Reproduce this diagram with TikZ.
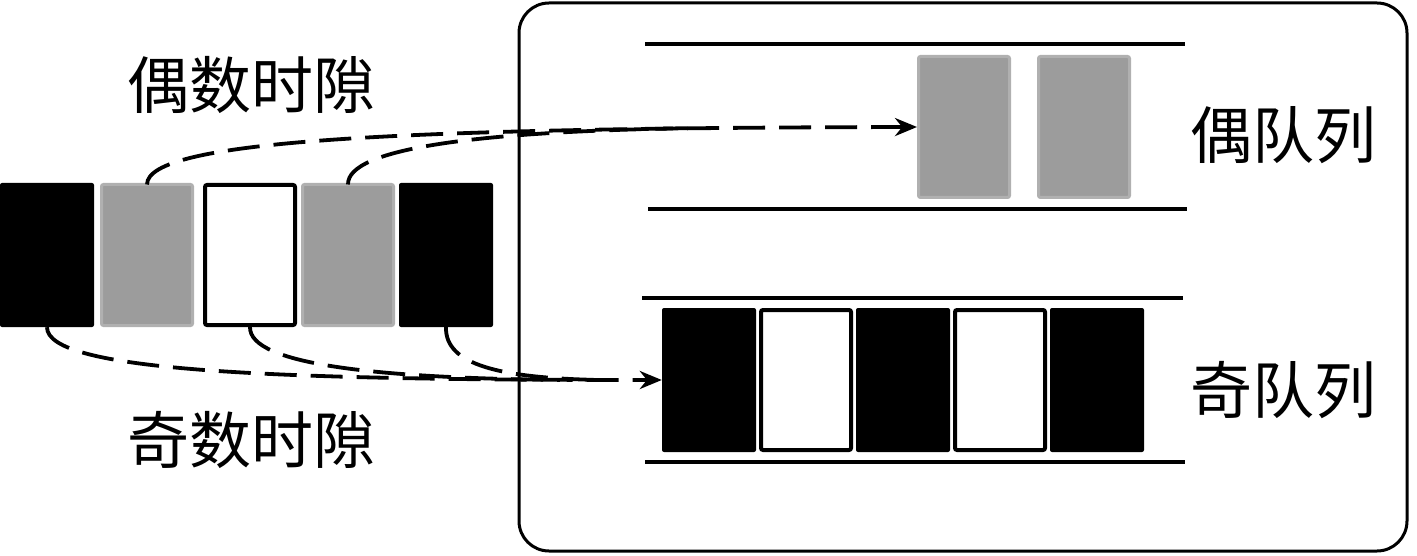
\documentclass[tikz,border=0pt]{standalone}
\usepackage{fontspec}
\newfontfamily\cjk{Noto Sans CJK SC}
\usetikzlibrary{arrows.meta}
\definecolor{slotgray}{HTML}{9C9C9C}
\definecolor{slotedge}{HTML}{B0B0B0}
\tikzset{
  slot/.style={rectangle, inner sep=0pt, minimum width=94pt, minimum height=144pt, rounded corners=2pt},
  blackslot/.style={slot, fill=black},
  grayslot/.style={slot, fill=slotgray, draw=slotedge, line width=3pt, minimum width=91pt, minimum height=141pt},
  whiteslot/.style={slot, fill=white, draw=black, line width=4pt, minimum width=90pt, minimum height=140pt},
  qline/.style={line width=4pt},
  dashconn/.style={line width=3.8pt, dash pattern=on 32pt off 14pt, -{Stealth[length=22pt,width=18pt]}},
  dashbranch/.style={line width=3.8pt, dash pattern=on 32pt off 14pt},
  lbl/.style={font=\cjk\fontsize{62pt}{70pt}\selectfont, inner sep=0pt}
}
\begin{document}
\begin{tikzpicture}[x=1pt,y=-1pt]
\useasboundingbox (0,0) rectangle (1417,556);
% outer frame
\draw[line width=3pt, rounded corners=30pt] (519,3) rectangle (1407,551);
% queue lines
\draw[qline] (645,44) -- (1185,44);
\draw[qline] (648,209) -- (1187,209);
\draw[qline] (642,298) -- (1183,298);
\draw[qline] (645,462) -- (1185,462);
% left slots
\node[blackslot] (b1) at (47,255) {};
\node[grayslot] (g1) at (147,255) {};
\node[whiteslot] (w1) at (250,255) {};
\node[grayslot] (g2) at (348,255) {};
\node[blackslot] (b2) at (446,255) {};
% even queue
\node[grayslot] (e1) at (964,127) {};
\node[grayslot] (e2) at (1084,127) {};
% odd queue
\node[blackslot] (o1) at (709,380) {};
\node[whiteslot] (o2) at (806,380) {};
\node[blackslot] (o3) at (903,380) {};
\node[whiteslot] (o4) at (1000,380) {};
\node[blackslot] (o5) at (1097,380) {};
% labels
\node[lbl] (le) at (251,85) {偶数时隙};
\node[lbl] (lo) at (251,440) {奇数时隙};
\node[lbl] (qe) at (1283,135) {偶队列};
\node[lbl] (qo) at (1283,390) {奇队列};
% connectors
\draw[dashconn] ([yshift=-1.5pt]g1.north) .. controls (147,140) and (400,128) .. (e1.west);
\draw[dashbranch] ([yshift=-1.5pt]g2.north) .. controls (347,148) and (480,131) .. (700,128);
\draw[dashconn] (b1.south) .. controls (47,372) and (280,380) .. (o1.west);
\draw[dashbranch] (w1.south) .. controls (249,365) and (380,378) .. (560,380);
\draw[dashbranch] (b2.south) .. controls (445,365) and (500,378) .. (600,380);
\end{tikzpicture}
\end{document}
